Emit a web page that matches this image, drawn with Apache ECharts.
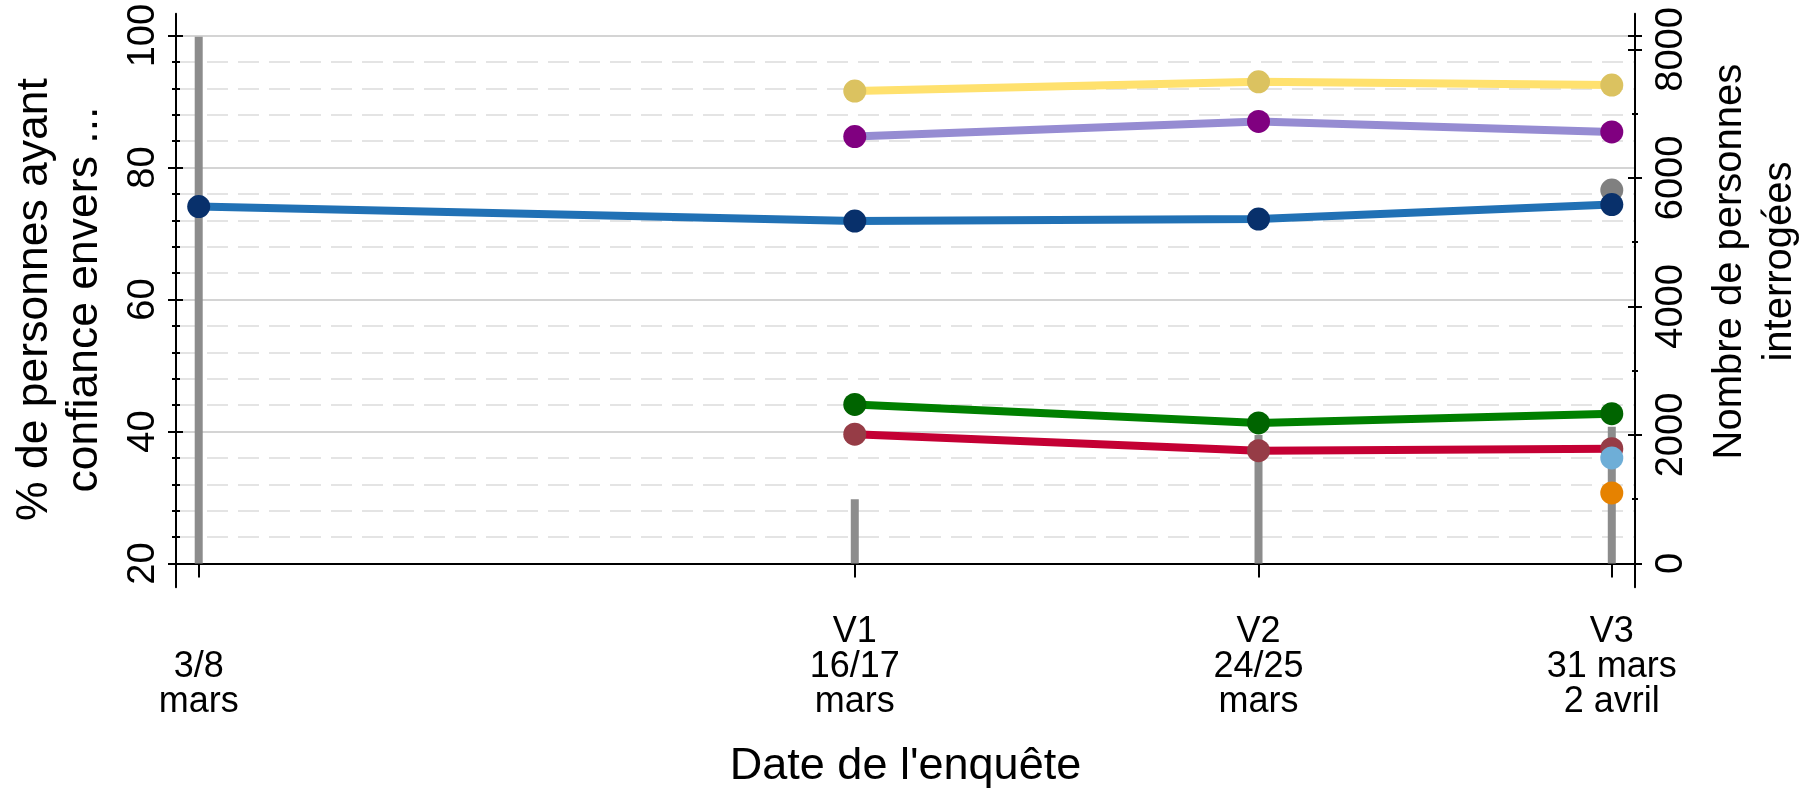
<!DOCTYPE html>
<html>
<head>
<meta charset="utf-8">
<title>Confiance</title>
<script src="https://cdn.jsdelivr.net/npm/echarts@6/dist/echarts.min.js"></script>
<style>
  html, body { margin: 0; padding: 0; background: #fff; }
  #main { width: 1811px; height: 792px; }
</style>
</head>
<body>
<div id="main"></div>
<script>
/** Dates of the survey waves (day of March) */
var dates = [3.5, 16.5, 24.5, 31.5];
/** Tick labels under the x axis */
var dateLabels = ['\n3/8\nmars', 'V1\n16/17\nmars', 'V2\n24/25\nmars', 'V3\n31 mars\n2 avril'];

/** Number of people surveyed (right axis) */
var effectifs = [8200, 1000, 2000, 2130];

/** % having confidence (left axis), null = not asked */
var serieBleue = [74.1, 71.9, 72.2, 74.4];
var serieJaune = [null, 91.6, 93.0, 92.5];
var serieViolette = [null, 84.7, 87.0, 85.4];
var serieVerte = [null, 44.1, 41.3, 42.7];
var serieRouge = [null, 39.6, 37.1, 37.4];
var pointGris = [null, null, null, 76.6];
var pointBleuClair = [null, null, null, 36.0];
var pointOrange = [null, null, null, 30.7];

var FONT = 'Liberation Sans, Arial, sans-serif';

/**
 * join dates with values, drop the missing ones
 * @param values
 */
function pairs(values) {
    var d = [];
    for (var i = 0; i < dates.length; i++) {
        if (values[i] != null) {
            d.push([dates[i], values[i]]);
        }
    }
    return d;
}

function lineSerie(values, lineColor, markColor) {
    return {
        type: 'line',
        xAxisIndex: 0,
        yAxisIndex: 0,
        data: pairs(values),
        symbol: 'circle',
        symbolSize: 23,
        lineStyle: { color: lineColor, width: 8 },
        itemStyle: { color: markColor },
        z: 3
    };
}

function pointSerie(values, color) {
    return {
        type: 'scatter',
        xAxisIndex: 0,
        yAxisIndex: 0,
        data: pairs(values),
        symbol: 'circle',
        symbolSize: 23,
        itemStyle: { color: color, opacity: 1 },
        z: 3
    };
}

// y axes of the data grid: labels + outward ticks, then inward ticks copies
function leftAxis(inside) {
    return {
        type: 'value', gridIndex: 0, position: 'left',
        min: 20, max: 100, interval: 20,
        name: inside ? '' : "% de personnes ayant\nconfiance envers ...",
        nameLocation: 'middle', nameRotate: 90, nameGap: 66,
        nameTextStyle: { fontFamily: FONT, fontSize: 44.5, color: '#000', lineHeight: 50 },
        axisLine: { show: false },
        axisTick: { show: true, inside: inside, length: inside ? 7 : 8, lineStyle: { color: '#000', width: 2 } },
        minorTick: { show: true, splitNumber: 5, length: 4, lineStyle: { color: '#000', width: 2 } },
        axisLabel: { show: !inside, rotate: 90, margin: 13, fontFamily: FONT, fontSize: 38, color: '#000' },
        splitLine: { show: !inside, lineStyle: { color: '#d4d4d4', width: 2 } },
        minorSplitLine: { show: !inside, lineStyle: { color: '#e4e4e4', width: 2, type: [21, 10] } }
    };
}

function rightAxis(inside) {
    return {
        type: 'value', gridIndex: 0, position: 'right',
        min: 0, max: 8216, interval: 2000,
        name: inside ? '' : "Nombre de personnes\ninterrogées",
        nameLocation: 'middle', nameRotate: 90, nameGap: 70,
        // padding pushes the title up a little, as in the original
        nameTextStyle: { fontFamily: FONT, fontSize: 40, color: '#000', lineHeight: 50, padding: [0, 0, 0, 76] },
        axisLine: { show: false },
        axisTick: { show: true, inside: inside, length: 7, lineStyle: { color: '#000', width: 2 } },
        minorTick: { show: true, splitNumber: 2, length: 3, lineStyle: { color: '#000', width: 2 } },
        axisLabel: {
            show: !inside, rotate: 90, margin: 18, fontFamily: FONT, fontSize: 38, color: '#000',
            formatter: function (v) { return String(v); }
        },
        splitLine: { show: false },
        minorSplitLine: { show: false }
    };
}

function frameAxis(pos) {
    return {
        type: 'value', gridIndex: 1, position: pos, min: 0, max: 1,
        axisLine: { show: true, lineStyle: { color: '#000', width: 2 } },
        axisTick: { show: false },
        axisLabel: { show: false },
        splitLine: { show: false }
    };
}

function draw() {
    var myChart = echarts.init(document.getElementById('main'));

    var option = {
        animation: false,
        backgroundColor: '#fff',
        grid: [
            // data area
            { left: 176, right: 176, top: 35.6, bottom: 228.5, outerBoundsMode: 'none' },
            // frame of the axes (a bit larger than the data area)
            { left: 176, right: 176, top: 13.8, bottom: 204.8, outerBoundsMode: 'none' }
        ],
        xAxis: [
            {
                type: 'value', gridIndex: 0, position: 'bottom',
                min: 3.05, max: 31.96, offset: 23.7,
                name: "Date de l'enquête",
                nameLocation: 'middle', nameGap: 157,
                nameTextStyle: { fontFamily: FONT, fontSize: 45, color: '#000', lineHeight: 45 },
                axisLine: { show: true, lineStyle: { color: '#000', width: 2 } },
                axisTick: { show: true, length: 14, customValues: dates, lineStyle: { color: '#000', width: 2 } },
                axisLabel: {
                    customValues: dates, margin: 27,
                    fontFamily: FONT, fontSize: 36, lineHeight: 35, color: '#000', align: 'center',
                    formatter: function (v) {
                        var i = dates.indexOf(v);
                        return i >= 0 ? dateLabels[i] : '';
                    }
                },
                splitLine: { show: false }
            },
            { type: 'value', gridIndex: 1, show: false, min: 0, max: 1 }
        ],
        yAxis: [
            leftAxis(false),
            rightAxis(false),
            leftAxis(true),
            rightAxis(true),
            frameAxis('left'),
            frameAxis('right')
        ],
        series: [
            {
                type: 'bar',
                xAxisIndex: 0,
                yAxisIndex: 1,
                data: pairs(effectifs),
                barWidth: 8,
                itemStyle: { color: '#8c8c8c' },
                z: 2
            },
            pointSerie(pointGris, '#808080'),
            lineSerie(serieBleue, '#2171b5', '#08306b'),
            lineSerie(serieJaune, '#ffe16e', '#dbc260'),
            lineSerie(serieViolette, '#968cd2', '#800080'),
            lineSerie(serieVerte, '#008000', '#006400'),
            lineSerie(serieRouge, '#c40034', '#963c46'),
            pointSerie(pointBleuClair, '#6eaed7'),
            pointSerie(pointOrange, '#e68200')
        ]
    };

    myChart.setOption(option);
}

draw();
</script>
</body>
</html>
